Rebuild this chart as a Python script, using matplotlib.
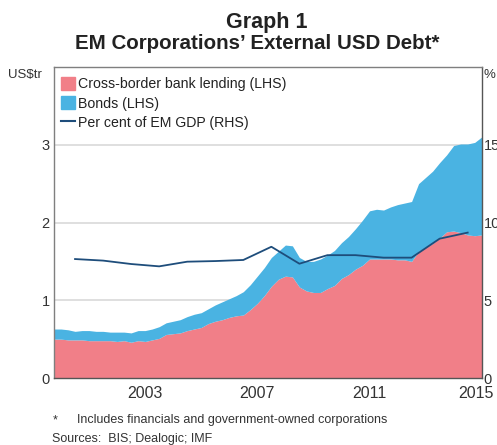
import numpy as np
import matplotlib
matplotlib.use('Agg')
import matplotlib.pyplot as plt
from matplotlib.patches import Patch
from matplotlib.lines import Line2D

plt.rcParams['font.family'] = ['Liberation Sans', 'DejaVu Sans']

# quarterly, decimal years from 2000.25 to 2015.5
quarters = np.arange(2000.25, 2015.51, 0.25)

# US$ trillion
bank_lending = [0.50, 0.50, 0.49, 0.49, 0.49, 0.48, 0.48, 0.48, 0.48, 0.47, 0.48, 0.46,
                0.48, 0.47, 0.49, 0.51, 0.56, 0.57, 0.58, 0.61, 0.63, 0.65, 0.70, 0.73,
                0.75, 0.78, 0.80, 0.81, 0.88, 0.96, 1.06, 1.18, 1.27, 1.31, 1.30, 1.17,
                1.12, 1.10, 1.10, 1.15, 1.19, 1.28, 1.33, 1.40, 1.45, 1.53, 1.53, 1.53,
                1.53, 1.52, 1.52, 1.50, 1.63, 1.68, 1.73, 1.80, 1.88, 1.89, 1.87, 1.84,
                1.83, 1.84]
bonds = [0.13, 0.13, 0.13, 0.11, 0.12, 0.13, 0.12, 0.12, 0.11, 0.12, 0.11, 0.12,
         0.13, 0.14, 0.14, 0.15, 0.15, 0.16, 0.17, 0.18, 0.19, 0.19, 0.19, 0.21,
         0.23, 0.24, 0.26, 0.30, 0.32, 0.35, 0.36, 0.37, 0.36, 0.40, 0.40, 0.38,
         0.38, 0.40, 0.43, 0.43, 0.45, 0.46, 0.49, 0.52, 0.58, 0.62, 0.64, 0.63,
         0.67, 0.71, 0.73, 0.77, 0.87, 0.90, 0.93, 0.97, 0.99, 1.10, 1.14, 1.17,
         1.20, 1.26]

# annual, per cent of EM GDP
gdp_years = list(range(2001, 2016))
gdp_share = [7.65, 7.55, 7.33, 7.18, 7.48, 7.52, 7.59, 8.44, 7.35, 7.90, 7.90,
             7.74, 7.74, 8.96, 9.35]

year_ticks = list(range(2001, 2016))
label_pos = [2003.5, 2007.5, 2011.5, 2015.28]
label_txt = ['2003', '2007', '2011', '2015']

pink = '#F17F88'
blue = '#4AB3E2'
navy = '#1E4D7B'
frame = '#7f7f7f'

fig = plt.figure(figsize=(4.97, 4.45), dpi=100)
ax = fig.add_axes([54 / 497, 1 - 378 / 445, (481.7 - 54) / 497, (378 - 67) / 445])

bank = np.array(bank_lending)
total = bank + np.array(bonds)
ax.fill_between(quarters, 0, bank, color=pink, lw=0)
ax.fill_between(quarters, bank, total, color=blue, lw=0)

ax.set_xlim(2000.25, 2015.5)
ax.set_ylim(0, 4)
ax.set_yticks([0, 1, 2, 3])
ax.set_axisbelow(True)
ax.yaxis.grid(True, color='#d9d9d9', lw=1.2)
ax.tick_params(axis='y', length=0, labelsize=10.5, pad=3, colors='#333333')

ax.set_xticks(year_ticks)
ax.set_xticklabels([])
ax.tick_params(axis='x', which='major', direction='in', length=5, width=1, color='#444444')
ax.set_xticks(label_pos, minor=True)
ax.set_xticklabels(label_txt, minor=True)
ax.tick_params(axis='x', which='minor', length=0, labelsize=11.5, pad=6, colors='#333333')

for s in ax.spines.values():
    s.set_color(frame)
    s.set_linewidth(1)
ax.spines['bottom'].set_color('#555555')
ax.spines['right'].set_color('#555555')

ax2 = ax.twinx()
ax2.plot(gdp_years, gdp_share, color=navy, lw=1.3)
ax2.set_ylim(0, 20)
ax2.set_yticks([0, 5, 10, 15])
ax2.tick_params(axis='y', length=0, labelsize=10.5, pad=1.5, colors='#333333')
for s in ax2.spines.values():
    s.set_visible(False)

fig.text(42 / 497, 1 - 75 / 445, 'US$tr', ha='right', va='center', fontsize=9.5, color='#333333')
fig.text(484 / 497, 1 - 75 / 445, '%', ha='left', va='center', fontsize=9.5, color='#333333')

handles = [Patch(color=pink), Patch(color=blue), Line2D([], [], color=navy, lw=1.5)]
labels = ['Cross-border bank lending (LHS)', 'Bonds (LHS)', 'Per cent of EM GDP (RHS)']
leg = ax2.legend(handles, labels, loc='upper left', bbox_to_anchor=(0.0, 0.99), frameon=False,
                 fontsize=10.2, handlelength=1.0, handleheight=1.0, handletextpad=0.2,
                 labelspacing=0.35, borderaxespad=0.3, borderpad=0.2)
for t in leg.get_texts():
    t.set_color('#222222')

fig.text(267 / 497, 1 - 28 / 445, 'Graph 1', ha='center', va='baseline',
         fontsize=15.5, fontweight='bold', color='#222222')
fig.text(257 / 497, 1 - 49 / 445, 'EM Corporations\u2019 External USD Debt*', ha='center',
         va='baseline', fontsize=14.8, fontweight='bold', color='#222222')

fig.text(53 / 497, 1 - 420 / 445, '*', ha='left', va='center', fontsize=9, color='#333333')
fig.text(77 / 497, 1 - 420 / 445, 'Includes financials and government-owned corporations',
         ha='left', va='center', fontsize=9, color='#333333')
fig.text(52 / 497, 1 - 439 / 445, 'Sources:  BIS; Dealogic; IMF', ha='left', va='center',
         fontsize=9, color='#333333')

fig.savefig('out.png', dpi=100)
